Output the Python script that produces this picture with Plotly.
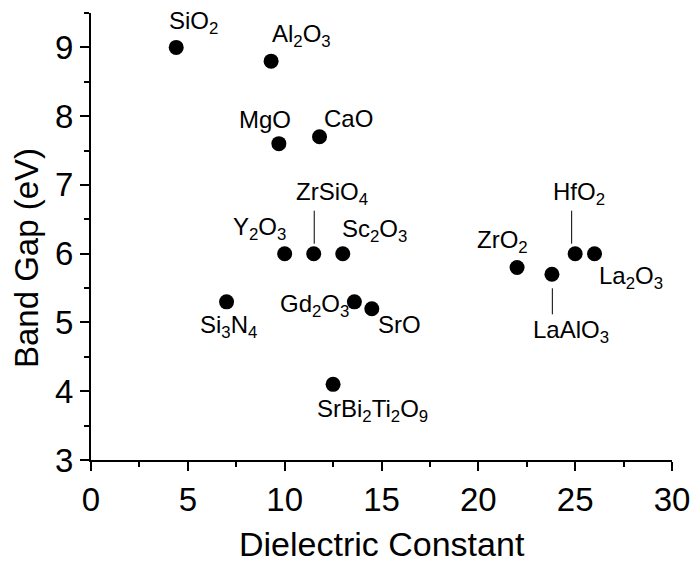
import plotly.graph_objects as go

# ---- data ----
materials = ["SiO<sub>2</sub>", "Al<sub>2</sub>O<sub>3</sub>", "MgO", "CaO",
             "Y<sub>2</sub>O<sub>3</sub>", "ZrSiO<sub>4</sub>", "Sc<sub>2</sub>O<sub>3</sub>",
             "Si<sub>3</sub>N<sub>4</sub>", "Gd<sub>2</sub>O<sub>3</sub>", "SrO",
             "SrBi<sub>2</sub>Ti<sub>2</sub>O<sub>9</sub>", "ZrO<sub>2</sub>",
             "LaAlO<sub>3</sub>", "HfO<sub>2</sub>", "La<sub>2</sub>O<sub>3</sub>"]
dielectric_constant = [4.4, 9.3, 9.7, 11.8, 10.0, 11.5, 13.0, 7.0, 13.6, 14.5, 12.5, 22.0, 23.8, 25.0, 26.0]
band_gap = [9.0, 8.8, 7.6, 7.7, 6.0, 6.0, 6.0, 5.3, 5.3, 5.2, 4.1, 5.8, 5.7, 6.0, 6.0]

x_ticks = [0, 5, 10, 15, 20, 25, 30]
y_ticks = [3, 4, 5, 6, 7, 8, 9]

# ---- layout / styling (pixel offsets of labels relative to their points) ----
label_dx = [17, 30, -14, 28.5, -25, 18, 32, 2, -40, 28, 39, -15, 19.5, 4, 36]
label_dy = [25, 26, 24, 18, 25, 60, 23, -25, -4, -16, -26, 25.5, -57, 60, -24]
# leader lines: (material index, x pixel offset, y pixel offset start, end)
leaders = [(5, 0.5, 10, 43), (13, -3.5, 10, 43), (12, 0.4, -14, -40)]

FONT = "Arial, Liberation Sans, Helvetica, sans-serif"

fig = go.Figure()
fig.add_trace(go.Scatter(
    x=dielectric_constant, y=band_gap, mode="markers",
    marker=dict(size=15, color="black", line=dict(width=0)),
    showlegend=False, hoverinfo="skip", cliponaxis=False))

annotations = []
for name, xv, yv, dx, dy in zip(materials, dielectric_constant, band_gap, label_dx, label_dy):
    annotations.append(dict(x=xv, y=yv, xref="x", yref="y", text=name, showarrow=False,
                            xanchor="center", yanchor="middle", xshift=dx, yshift=dy,
                            font=dict(family=FONT, size=24, color="black")))

annotations.append(dict(x=0.5, y=-0.187, xref="paper", yref="paper", text="Dielectric Constant",
                        showarrow=False, xanchor="center", yanchor="middle",
                        font=dict(family=FONT, size=34, color="black")))
annotations.append(dict(x=-0.111, y=0.4506, xref="paper", yref="paper", text="Band Gap (eV)",
                        showarrow=False, xanchor="center", yanchor="middle", textangle=-90,
                        font=dict(family=FONT, size=33, color="black")))

shapes = []
for idx, dx, y0, y1 in leaders:
    shapes.append(dict(type="line", xref="x", yref="y",
                       xsizemode="pixel", xanchor=dielectric_constant[idx], x0=dx, x1=dx,
                       ysizemode="pixel", yanchor=band_gap[idx], y0=y0, y1=y1,
                       line=dict(color="black", width=1)))

fig.update_layout(
    width=695, height=563,
    margin=dict(l=91, r=23, t=13, b=103, autoexpand=False),
    paper_bgcolor="white", plot_bgcolor="white",
    font=dict(family=FONT, color="black"),
    annotations=annotations, shapes=shapes,
)
fig.update_xaxes(range=[0, 30], tickvals=x_ticks, ticktext=[str(v) for v in x_ticks],
                 showline=True, linecolor="black", linewidth=2, mirror=False, automargin=False,
                 ticks="outside", ticklen=9, tickwidth=2, tickcolor="black",
                 minor=dict(dtick=2.5, tick0=0, ticks="outside", ticklen=5, tickwidth=2, tickcolor="black"),
                 showgrid=False, zeroline=False,
                 tickfont=dict(family=FONT, size=33, color="black"))
fig.update_yaxes(range=[3, 9.5], tickvals=y_ticks, ticktext=[str(v) for v in y_ticks],
                 showline=True, linecolor="black", linewidth=2, mirror=False, automargin=False,
                 ticks="outside", ticklen=9, tickwidth=2, tickcolor="black",
                 minor=dict(dtick=0.5, tick0=3, ticks="outside", ticklen=5, tickwidth=2, tickcolor="black"),
                 showgrid=False, zeroline=False,
                 tickfont=dict(family=FONT, size=33, color="black"))

fig.write_html("out.html", config={"displayModeBar": False},
               post_script="document.body.style.margin='0';document.body.style.overflow='hidden';")
